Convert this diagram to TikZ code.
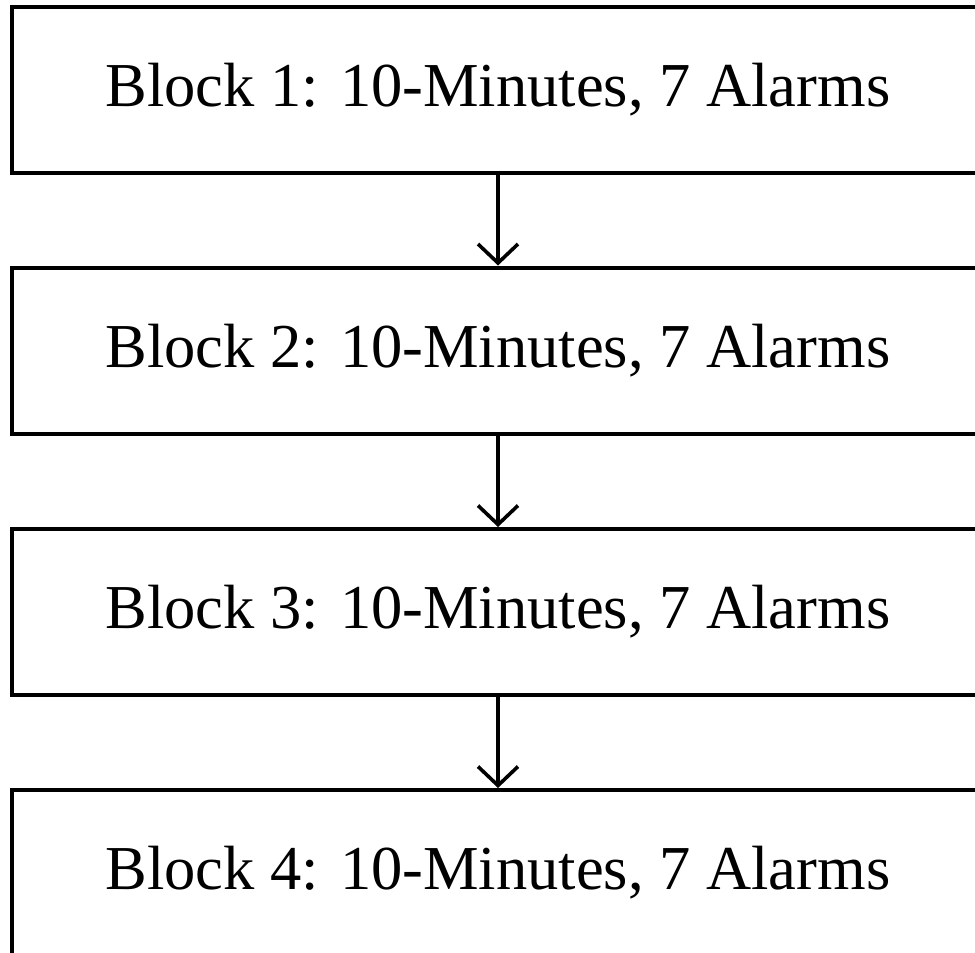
\documentclass[tikz,border=0pt]{standalone}
\usepackage{fontspec}
\setmainfont{Liberation Serif}
\usetikzlibrary{arrows.meta}
\begin{document}
\begin{tikzpicture}[x=1pt,y=-1pt,
  blockbox/.style={draw=black, line width=4pt, fill=white, inner sep=0pt,
    minimum width=972pt, minimum height=166pt,
    font=\fontsize{62.5}{70}\selectfont},
  flow/.style={line width=3.3pt, -{Straight Barb[length=19pt,width=40pt,line width=3.6pt]}}]
  \useasboundingbox (0,0) rectangle (975,953);
  \begin{scope}
    \clip (0,0) rectangle (975,953);
    \node[blockbox] (b1) at (498,90)  {Block 1: 10-Minutes, 7 Alarms};
    \node[blockbox] (b2) at (498,350.5) {Block 2: 10-Minutes, 7 Alarms};
    \node[blockbox] (b3) at (498,612) {Block 3: 10-Minutes, 7 Alarms};
    \node[blockbox] (b4) at (498,873) {Block 4: 10-Minutes, 7 Alarms};
    \draw[flow] (b1.south) -- (b2.north);
    \draw[flow] (b2.south) -- (b3.north);
    \draw[flow] (b3.south) -- (b4.north);
  \end{scope}
\end{tikzpicture}
\end{document}
